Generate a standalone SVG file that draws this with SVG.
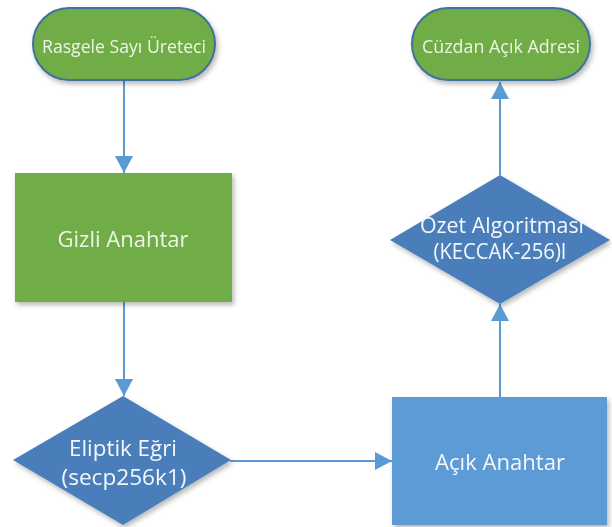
<svg xmlns="http://www.w3.org/2000/svg" width="612" height="527" viewBox="0 0 612 527">
  <style>
    .green { fill: #70AD47; }
    .term { stroke: #41719C; stroke-width: 2; }
    .proc { stroke: none; }
    .dia { fill: #4A7EBB; }
    .blue { fill: #5B9BD5; }
    .lbl { font-family: "Open Sans", "Liberation Sans", sans-serif; text-anchor: middle; }
    .lg { fill: #EEF4E6; }
    .lb { fill: #F4F7FB; }
    .edge { stroke: #5B9BD5; stroke-width: 2; fill: none; marker-end: url(#arrow); }
  </style>
  <defs>
    <filter id="shadow" x="-10%" y="-10%" width="125%" height="130%">
      <feDropShadow dx="2" dy="3" stdDeviation="2.5" flood-color="#000" flood-opacity="0.28"/>
    </filter>
    <marker id="arrow" markerUnits="userSpaceOnUse" markerWidth="18" markerHeight="18" viewBox="0 0 18 18" refX="17" refY="9" orient="auto">
      <path d="M0,0 L17,9 L0,18 Z" fill="#5B9BD5"/>
    </marker>
  </defs>

  <rect width="612" height="527" fill="#FFFFFF"/>

  <!-- connectors -->
  <g id="connectors">
    <line class="edge" x1="124" y1="81" x2="124" y2="173"/>
    <line class="edge" x1="124" y1="302" x2="124" y2="396"/>
    <line class="edge" x1="230" y1="461" x2="392" y2="461"/>
    <line class="edge" x1="500" y1="397" x2="500" y2="304"/>
    <line class="edge" x1="500" y1="175" x2="500" y2="82"/>
  </g>

  <!-- random number generator (start) -->
  <g id="rng" filter="url(#shadow)">
    <rect class="green term" x="33" y="8" width="182" height="72" rx="36" ry="36"/>
    <text class="lbl lg" x="124" y="53" font-size="19" textLength="164" lengthAdjust="spacingAndGlyphs">Rasgele Sayı Üreteci</text>
  </g>

  <!-- private key -->
  <g id="private-key" filter="url(#shadow)">
    <rect class="green proc" x="15" y="173" width="217" height="129"/>
    <text class="lbl lg" x="123" y="247" font-size="21" textLength="131" lengthAdjust="spacingAndGlyphs">Gizli Anahtar</text>
  </g>

  <!-- elliptic curve -->
  <g id="elliptic-curve" filter="url(#shadow)">
    <polygon class="dia" points="123,396 231,460 123,525 13,460"/>
    <text class="lbl lb" x="123" y="456" font-size="21" textLength="108" lengthAdjust="spacingAndGlyphs">Eliptik Eğri</text>
    <text class="lbl lb" x="124" y="485" font-size="21" textLength="125" lengthAdjust="spacingAndGlyphs">(secp256k1)</text>
  </g>

  <!-- public key -->
  <g id="public-key" filter="url(#shadow)">
    <rect class="blue" x="392" y="397" width="215" height="128"/>
    <text class="lbl lb" x="500" y="470" font-size="21" textLength="130" lengthAdjust="spacingAndGlyphs">Açık Anahtar</text>
  </g>

  <!-- hash algorithm -->
  <g id="hash" filter="url(#shadow)">
    <polygon class="dia" points="500,175 610,240 500,304 390,240"/>
    <text class="lbl lb" x="502" y="233" font-size="21" textLength="164" lengthAdjust="spacingAndGlyphs">Özet Algoritması</text>
    <text class="lbl lb" x="500" y="259" font-size="21" textLength="133" lengthAdjust="spacingAndGlyphs">(KECCAK-256)I</text>
  </g>

  <!-- wallet address (end) -->
  <g id="wallet" filter="url(#shadow)">
    <rect class="green term" x="412" y="8" width="178" height="72" rx="36" ry="36"/>
    <text class="lbl lg" x="501" y="53" font-size="19" textLength="158" lengthAdjust="spacingAndGlyphs">Cüzdan Açık Adresi</text>
  </g>
</svg>
